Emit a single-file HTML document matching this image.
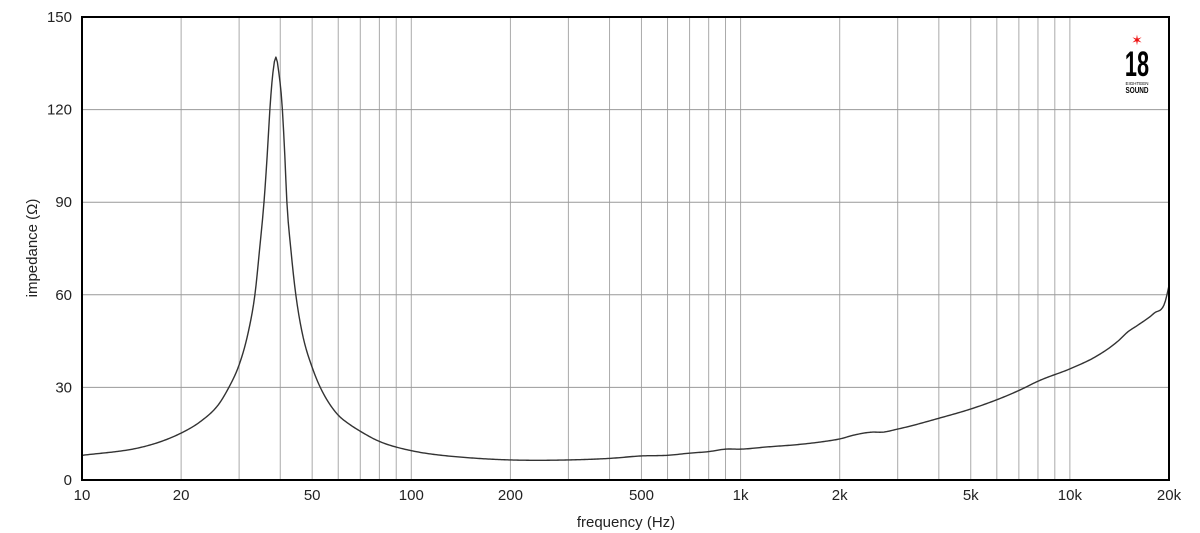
<!DOCTYPE html>
<html><head><meta charset="utf-8"><style>
html,body{margin:0;padding:0;background:#fff;width:1200px;height:533px;overflow:hidden}
svg text{font-family:"Liberation Sans",sans-serif;fill:#222}
</style></head><body>
<svg id="chart" width="1200" height="533" xmlns="http://www.w3.org/2000/svg">
<g id="grid"></g>
<g id="ticks"></g>
<path id="curve" fill="none" stroke="#333" stroke-width="1.4" stroke-linejoin="round"/>
<rect x="82" y="17" width="1087" height="463" fill="none" stroke="#000" stroke-width="2"/>
<text x="626" y="527" font-size="15" text-anchor="middle">frequency (Hz)</text>
<text transform="translate(37,248) rotate(-90)" font-size="15" text-anchor="middle">impedance (Ω)</text>
<g>
<text x="1137" y="45" font-size="14" text-anchor="middle" style="fill:#e11">✶</text>
<text transform="translate(1137,76) scale(0.62,1)" font-size="35" font-weight="bold" text-anchor="middle" style="fill:#000">18</text>
<text x="1137" y="85" font-size="4.5" text-anchor="middle" style="fill:#000">EIGHTEEN</text>
<text transform="translate(1137,93) scale(0.8,1)" font-size="8" font-weight="bold" text-anchor="middle" style="fill:#000">SOUND</text>
</g>
</svg>
<script>
const freqs=[10,15,20,22.8,26.2,27.6,30,32,33.5,34.6,35.7,36.5,37.2,38,38.8,39.6,40.6,41.3,41.9,43.1,44.6,47,50,52,57,60,65,70,80,100,150,200,300,400,500,600,700,800,900,1000,1200,1500,1800,2000,2200,2500,2700,3000,4000,5000,6000,7000,8000,10000,12000,14000,15000,16000,18000,19500,20000];
const impedance=[8,10.5,15.2,18.8,25,29,37.3,48,60,74.5,90,105,120,132,137,132,120,105,90,74.5,60,46,36.5,31.8,24,21,18,15.8,12.5,9.5,7.2,6.5,6.5,7,7.8,8,8.7,9.2,10,10,10.7,11.5,12.5,13.3,14.5,15.5,15.5,16.5,20,23,26,29,32,36,40,45,48,50,54,58,63];
const xTicks=[10,20,50,100,200,500,1000,2000,5000,10000,20000];
const xTickLabels=["10","20","50","100","200","500","1k","2k","5k","10k","20k"];
const yTicks=[0,30,60,90,120,150];
const X0=82,X1=1169,Y0=480,Y1=17;
const xs=f=>X0+(Math.log10(f)-1)/Math.log10(2000)*(X1-X0);
const ys=v=>Y0-v/150*(Y0-Y1);
const NS="http://www.w3.org/2000/svg";
const grid=document.getElementById('grid'),ticks=document.getElementById('ticks');
function mk(tag,attrs,parent){const e=document.createElementNS(NS,tag);for(const k in attrs)e.setAttribute(k,attrs[k]);parent.appendChild(e);return e;}
for(let d=10;d<20000;d*=10){for(let m=1;m<10;m++){const f=d*m;if(f<=10||f>=20000)continue;
const l=mk('line',{x1:xs(f),x2:xs(f),y1:Y1,y2:Y0,stroke:'#aaa','stroke-width':1},grid);

}}
yTicks.forEach(v=>{if(v>0&&v<150){const l=mk('line',{x1:X0,x2:X1,y1:ys(v),y2:ys(v),stroke:'#999','stroke-width':1},grid);

}
const t=mk('text',{x:X0-10,y:ys(v)+5,'font-size':15,'text-anchor':'end'},ticks);t.textContent=v;

});
xTicks.forEach((f,i)=>{const t=mk('text',{x:xs(f),y:500,'font-size':15,'text-anchor':'middle'},ticks);t.textContent=xTickLabels[i];

});
// cubic Hermite in (log f, ln Z), sampled densely
const lx=freqs.map(f=>Math.log10(f)),lz=impedance.map(v=>Math.log(v)),n=lx.length;
const sl=[];for(let i=0;i<n-1;i++)sl.push((lz[i+1]-lz[i])/(lx[i+1]-lx[i]));
const m=[sl[0]];
for(let i=1;i<n-1;i++){const h0=lx[i]-lx[i-1],h1=lx[i+1]-lx[i];m.push((sl[i-1]*h1+sl[i]*h0)/(h0+h1));}
m.push(sl[n-2]);
let d='';
for(let i=0;i<n-1;i++){const h=lx[i+1]-lx[i];const steps=Math.max(2,Math.ceil((xs(freqs[i+1])-xs(freqs[i]))/1.5));
for(let s=(i?1:0);s<=steps;s++){const t=s/steps,t2=t*t,t3=t2*t;
const v=(2*t3-3*t2+1)*lz[i]+(t3-2*t2+t)*h*m[i]+(-2*t3+3*t2)*lz[i+1]+(t3-t2)*h*m[i+1];
const f=Math.pow(10,lx[i]+t*h);
d+=(d?' L':'M')+xs(f).toFixed(2)+','+ys(Math.exp(v)).toFixed(2);}}
document.getElementById('curve').setAttribute('d',d);
</script>
</body></html>
